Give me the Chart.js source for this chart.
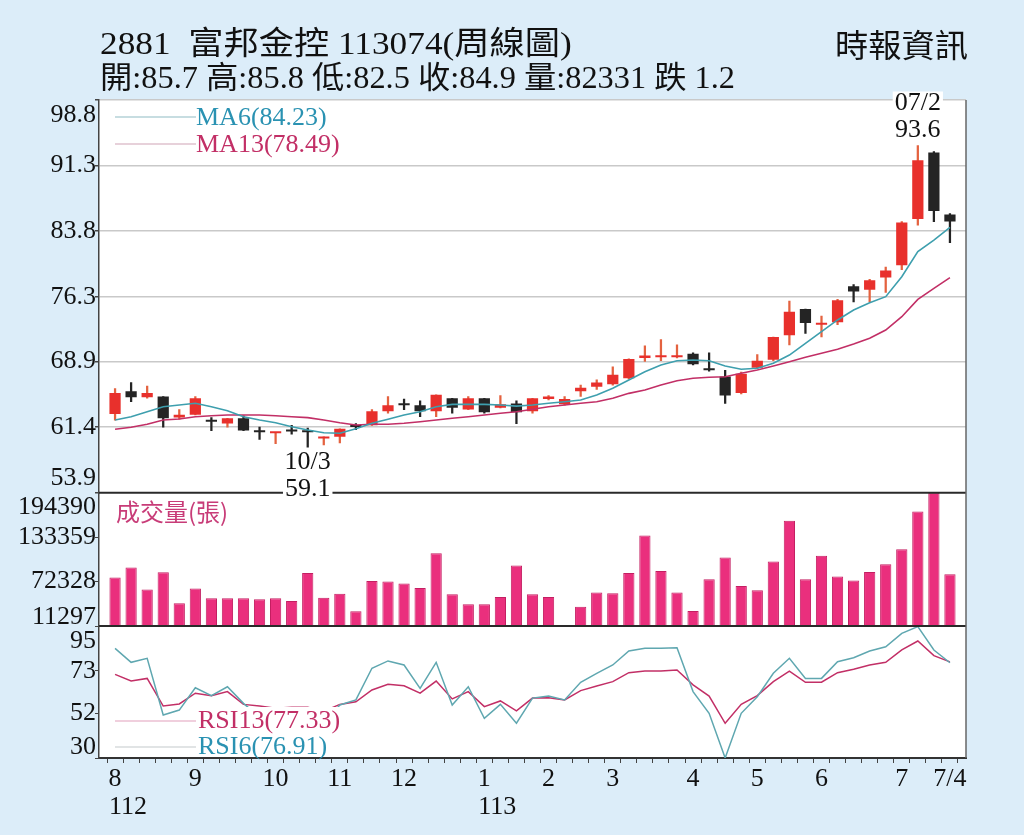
<!DOCTYPE html>
<html lang="zh-Hant">
<head>
<meta charset="utf-8">
<title>2881 富邦金控 周線圖</title>
<script src="https://cdn.jsdelivr.net/npm/chart.js@4.4.1/dist/chart.umd.min.js"></script>
<style>
  html, body { margin: 0; padding: 0; background: #dcedf9; }
  #wrap { position: relative; width: 1024px; height: 835px; overflow: hidden; }
  #box { position: absolute; left: 0; top: 0; width: 1024px; height: 835px; }
  .hd {
    position: absolute; white-space: nowrap; color: #111; line-height: 1;
    font-family: "Liberation Serif", "Noto Sans CJK TC", serif;
    transform-origin: 0 0;
  }
</style>
</head>
<body>
<div id="wrap">
  <div id="box"><canvas id="chart"></canvas></div>
  <div class="hd" data-w="472" style="left:100px;top:27px;font-size:32px;">2881&nbsp;&nbsp;富邦金控 113074(周線圖)</div>
  <div class="hd" data-w="635" style="left:100px;top:62px;font-size:31px;">開:85.7 高:85.8 低:82.5 收:84.9 量:82331 跌 1.2</div>
  <div class="hd" data-w="133" style="left:835px;top:30px;font-size:32px;">時報資訊</div>
</div>
<script>
// ---- data (weekly, 112/8 .. 113/7/4) ----
const categories = ['8','','','','','9','','','','','10','','','','11','','','','12','','','','',
  '1','','','','2','','','','3','','','','','4','','','','5','','','','6','','','','','7','','','7/4'];
const yearIndex = [0, 23];
const yearText = ['112', '113'];

const opens  = [62.9,65.5,64.8,64.9,62.5,62.8,62.1,61.8,62.4,60.9,60.7,61.0,60.9,60.1,60.3,61.5,61.6,63.2,
  64.0,63.9,63.2,64.7,63.4,64.7,63.6,64.1,63.2,64.6,64.0,65.5,66.0,66.3,67.0,69.3,69.4,69.4,69.8,67.95,
  67.2,65.3,68.2,69.1,71.9,74.9,73.1,73.4,77.5,77.1,78.5,79.9,85.2,92.8,85.7];
const highs  = [65.8,66.5,66.1,64.9,63.4,64.9,62.5,62.4,62.7,61.4,60.8,61.6,61.3,60.3,61.2,61.8,63.4,64.9,
  64.6,64.4,65.1,64.7,64.9,64.7,65.0,64.4,64.7,65.0,64.9,66.2,66.8,68.3,69.2,70.7,71.4,70.8,69.9,69.9,
  67.9,67.7,69.7,71.7,75.8,74.9,74.1,76.0,77.7,78.3,79.7,84.9,93.6,92.9,85.8];
const lows   = [62.2,64.3,64.7,61.4,62.3,62.8,61.0,61.4,61.0,60.0,59.5,60.6,59.1,59.35,59.6,61.1,61.6,63.0,
  63.4,62.6,62.6,63.0,63.4,63.0,63.6,61.8,63.0,64.5,63.9,64.9,65.7,66.2,66.9,68.9,69.0,69.3,68.5,67.8,
  64.1,65.2,68.1,69.0,70.8,72.1,71.7,73.1,75.7,75.7,76.8,79.4,84.5,84.9,82.5];
const closes = [65.3,64.8,65.3,62.4,62.8,64.7,62.0,62.4,61.0,60.8,60.8,60.9,60.8,60.3,61.2,61.4,63.2,63.9,
  63.9,63.2,65.1,63.6,64.7,63.1,64.0,63.1,64.7,64.9,64.6,65.9,66.5,67.4,69.2,69.6,69.6,69.6,68.6,67.9,
  65.0,67.5,69.0,71.7,74.6,73.3,73.3,75.9,76.9,78.2,79.3,84.8,91.9,86.1,84.9];
const ma6  = [62.21,62.59,63.16,63.73,63.93,64.12,63.73,63.28,62.59,62.21,61.9,61.45,61.07,60.76,60.7,61.2,
  61.84,62.29,62.78,63.16,63.73,64.0,64.0,64.0,63.93,63.8,63.93,64.12,64.3,64.5,65.07,65.84,66.79,67.73,
  68.5,68.99,69.07,68.99,68.39,68.01,68.12,68.7,69.64,70.98,72.31,73.65,74.79,75.62,76.31,78.6,81.46,82.79,84.23];
const ma13 = [61.15,61.38,61.72,62.21,62.33,62.59,62.7,62.78,62.78,62.78,62.7,62.59,62.48,62.21,61.9,61.64,
  61.72,61.72,61.84,62.02,62.21,62.41,62.59,62.78,62.98,63.16,63.45,63.73,63.93,64.12,64.3,64.69,65.26,65.64,
  66.21,66.71,66.98,67.1,67.16,67.55,67.93,68.39,68.88,69.38,69.84,70.3,70.9,71.55,72.5,74.02,76.0,77.27,78.49];
const volumes = [77800,91560,61270,85220,42550,62640,49430,49430,49430,48050,49430,45710,84260,50260,55760,
  31530,73240,72280,69530,63610,111380,54930,41170,41170,51220,94300,54930,51220,12000,37870,57140,56310,
  84260,135600,87010,57140,31950,75580,105320,66360,60440,99810,155840,75580,107660,79160,73660,85630,
  96230,116880,168640,194390,82331];
const rsi6  = [84.0,77.1,79.1,51.2,53.6,64.6,60.7,65.1,56.9,50,48,52,51,47,56.1,58.6,74.2,77.8,75.8,64.3,
  77.1,56.1,65.1,49.5,56.4,47.1,59.5,60.5,58.6,67.3,71.7,75.8,82.7,84.0,84.0,84.3,62.7,52.0,30.0,52.0,60.2,
  71.7,79.1,69.2,69.2,77.4,79.4,82.7,84.8,91.4,94.7,83.2,76.91];
const rsi13 = [71.2,67.9,69.2,55.6,56.6,61.9,60.7,62.7,56.4,55.6,54.5,55,55,53,56.4,57.7,63.5,66.3,65.6,61.9,
  67.9,59.1,62.7,55.3,58.1,53.2,59.5,59.7,58.6,63.2,65.5,67.6,72.0,72.8,72.8,73.3,66.0,60.5,47.1,56.4,60.7,
  67.6,72.8,67.3,67.3,72.0,73.7,75.8,77.1,83.2,87.6,80.4,77.33];
const priceTicks = [53.9, 61.4, 68.9, 76.3, 83.8, 91.3, 98.8];
const volTicks = [11297, 72328, 133359, 194390];
const rsiTicks = [30, 52, 73, 95];
const highNote = '07/2';
const lowNote = '10/3';

// ---- style ----
const SERIF = "'Liberation Serif', 'Noto Sans CJK TC', serif";
const CJK = "'Noto Sans CJK TC', sans-serif";
const UP = '#e8302c', DOWN = '#242424';
const TEAL = '#3e9fae', CRIMSON = '#c22f66';

// one empty slot at each end so the first/last candle sit one step inside the frame
const pad = arr => [null, ...arr, null];
const labels = pad(categories).map(c => c === null ? '' : c);
const isUp = i => closes[i] >= opens[i];

const panelDecor = {
  id: 'panelDecor',
  beforeDraw(chart) {
    const { ctx, chartArea: a } = chart;
    ctx.save();
    ctx.fillStyle = '#ffffff';
    ctx.fillRect(a.left, a.top, a.right - a.left, a.bottom - a.top);
    ctx.restore();
  },
  afterDatasetsDraw(chart) {
    const { ctx, chartArea: a, scales } = chart;
    const yP = scales.y, yV = scales.yVol, yR = scales.yRsi, x = scales.x;
    ctx.save();

    // panel separators and right frame
    ctx.strokeStyle = '#2a2a2a';
    ctx.lineWidth = 2;
    [yV.top, yV.bottom].forEach(py => {
      ctx.beginPath(); ctx.moveTo(a.left, py); ctx.lineTo(a.right, py); ctx.stroke();
    });
    ctx.strokeStyle = '#666';
    ctx.lineWidth = 1.5;
    ctx.beginPath(); ctx.moveTo(a.right, a.top); ctx.lineTo(a.right, a.bottom); ctx.stroke();

    // legends
    const legendLine = (y0, color) => {
      ctx.strokeStyle = color; ctx.lineWidth = 1.2;
      ctx.beginPath(); ctx.moveTo(a.left + 16, y0); ctx.lineTo(a.left + 97, y0); ctx.stroke();
    };
    ctx.font = '26px ' + SERIF;
    ctx.textBaseline = 'middle';
    ctx.textAlign = 'left';
    legendLine(yP.top + 17, '#8fbcc4');
    ctx.fillStyle = '#2a92b2';
    ctx.fillText('MA6(' + ma6[ma6.length - 1].toFixed(2) + ')', a.left + 97, yP.top + 18);
    legendLine(yP.top + 44, '#cfa3b5');
    ctx.fillStyle = CRIMSON;
    ctx.fillText('MA13(' + ma13[ma13.length - 1].toFixed(2) + ')', a.left + 97, yP.top + 45);

    ctx.font = '24px ' + CJK;
    ctx.fillStyle = '#c83c78';
    ctx.fillText('成交量(張)', a.left + 17, yV.top + 19);

    ctx.fillStyle = '#ffffff';
    ctx.fillRect(a.left + 97, yR.bottom - 51, 146, 50);
    ctx.font = '26px ' + SERIF;
    legendLine(yR.bottom - 37, '#e2a0bb');
    ctx.fillStyle = CRIMSON;
    ctx.fillText('RSI13(' + rsi13[rsi13.length - 1].toFixed(2) + ')', a.left + 99, yR.bottom - 37);
    legendLine(yR.bottom - 11, '#c4cacb');
    ctx.fillStyle = '#2a92b2';
    ctx.fillText('RSI6(' + rsi6[rsi6.length - 1].toFixed(2) + ')', a.left + 99, yR.bottom - 11);

    // high / low notes
    const hi = highs.indexOf(Math.max(...highs));
    const lo = lows.indexOf(Math.min(...lows));
    ctx.textAlign = 'center';
    const note = (txt, px, py) => {
      const w = ctx.measureText(txt).width;
      ctx.fillStyle = '#ffffff';
      ctx.fillRect(px - w / 2 - 2, py - 12, w + 4, 24);
      ctx.fillStyle = '#111';
      ctx.fillText(txt, px, py);
    };
    const hx = x.getPixelForValue(hi + 1), hy = yP.getPixelForValue(highs[hi]);
    note(highNote, hx, hy - 42);
    note(highs[hi].toFixed(1), hx, hy - 15);
    const lx = x.getPixelForValue(lo + 1), ly = yP.getPixelForValue(lows[lo]);
    note(lowNote, lx, ly + 15);
    note(lows[lo].toFixed(1), lx, ly + 42);
    ctx.restore();
  },
  afterDraw(chart) {
    // y tick labels; the end labels are pulled inside their panel
    const { ctx, scales } = chart;
    const specs = [
      ['y', 15, 15, v => v.toFixed(1)],
      ['yVol', 14, 9, v => String(v)],
      ['yRsi', 15, 11, v => String(v)]
    ];
    ctx.save();
    ctx.font = '26px ' + SERIF;
    ctx.fillStyle = '#111';
    ctx.textAlign = 'right';
    ctx.textBaseline = 'middle';
    specs.forEach(([id, mTop, mBot, fmt]) => {
      const s = scales[id];
      s.ticks.forEach(t => {
        let py = s.getPixelForValue(t.value);
        py = Math.min(Math.max(py, s.top + mTop), s.bottom - mBot);
        ctx.fillText(fmt(t.value), s.right - 3, py);
      });
    });
    ctx.restore();
  }
};

const yAxisBase = (ticks, stackWeight, weight) => ({
  type: 'linear',
  position: 'left',
  stack: 'panels',
  stackWeight: stackWeight,
  weight: weight,
  min: ticks[0],
  max: ticks[ticks.length - 1],
  afterBuildTicks: s => { s.ticks = ticks.map(v => ({ value: v })); },
  afterFit: s => { s.width = 99; },
  ticks: { display: false },
  border: { display: true, color: '#444', width: 1.5 },
  grid: { drawOnChartArea: false, drawTicks: true, tickLength: 4, tickColor: '#444' }
});

const priceAxis = yAxisBase(priceTicks, 392.7, 3);
priceAxis.grid = {
  drawOnChartArea: true, drawTicks: true, tickLength: 4, tickColor: '#444', lineWidth: 1.5,
  color: c => (c.tick && c.tick.value === priceTicks[0]) ? 'rgba(0,0,0,0)' : '#c9c9c9'
};

new Chart(document.getElementById('chart'), {
  data: {
    labels: labels,
    datasets: [
      {
        type: 'line', label: 'MA6', data: pad(ma6), yAxisID: 'y',
        borderColor: TEAL, borderWidth: 1.6, pointRadius: 0, tension: 0, order: 0
      },
      {
        type: 'line', label: 'MA13', data: pad(ma13), yAxisID: 'y',
        borderColor: CRIMSON, borderWidth: 1.6, pointRadius: 0, tension: 0, order: 0
      },
      {
        type: 'bar', label: 'K', yAxisID: 'y',
        data: pad(opens.map((o, i) => [o, closes[i]])),
        backgroundColor: c => isUp(c.dataIndex - 1) ? UP : DOWN,
        barPercentage: 0.7, categoryPercentage: 1, grouped: false, minBarLength: 2, order: 1
      },
      {
        type: 'bar', label: 'wick', yAxisID: 'y',
        data: pad(lows.map((l, i) => [l, highs[i]])),
        backgroundColor: c => isUp(c.dataIndex - 1) ? '#e4623f' : DOWN,
        barThickness: 1.6, grouped: false, order: 2
      },
      {
        type: 'bar', label: '成交量', yAxisID: 'yVol', data: pad(volumes), base: volTicks[0],
        backgroundColor: '#ea2f7d', borderColor: '#c41f62', borderWidth: 1,
        barPercentage: 0.7, categoryPercentage: 1, grouped: false, order: 3
      },
      {
        type: 'line', label: 'RSI6', data: pad(rsi6), yAxisID: 'yRsi',
        borderColor: '#5fa7b0', borderWidth: 1.5, pointRadius: 0, tension: 0, order: 0
      },
      {
        type: 'line', label: 'RSI13', data: pad(rsi13), yAxisID: 'yRsi',
        borderColor: CRIMSON, borderWidth: 1.5, pointRadius: 0, tension: 0, order: 0
      }
    ]
  },
  options: {
    responsive: true,
    maintainAspectRatio: false,
    animation: false,
    layout: { padding: { top: 100, right: 58, left: 0, bottom: 0 } },
    plugins: { legend: { display: false }, tooltip: { enabled: false } },
    scales: {
      x: {
        type: 'category',
        offset: false,
        afterFit: s => { s.height = 77; },
        border: { display: true, color: '#333', width: 2 },
        grid: { drawOnChartArea: false, drawTicks: true, tickLength: 5, tickColor: '#444' },
        ticks: {
          autoSkip: false, maxRotation: 0, padding: 3, color: '#111',
          font: { family: SERIF, size: 26, lineHeight: 1.05 },
          callback: (v, idx) => {
            const c = labels[idx];
            if (!c) return '';
            const yi = yearIndex.indexOf(idx - 1);
            return yi >= 0 ? [c, '\u2002\u2002' + yearText[yi]] : c;
          }
        }
      },
      y: priceAxis,
      yVol: yAxisBase(volTicks, 133.3, 2),
      yRsi: yAxisBase(rsiTicks, 132, 1)
    }
  },
  plugins: [panelDecor]
});

// condense header text to the widths used in the printed chart
document.querySelectorAll('.hd').forEach(el => {
  const w = el.getBoundingClientRect().width;
  el.style.transform = 'scaleX(' + (Number(el.dataset.w) / w).toFixed(3) + ')';
});
</script>
</body>
</html>
